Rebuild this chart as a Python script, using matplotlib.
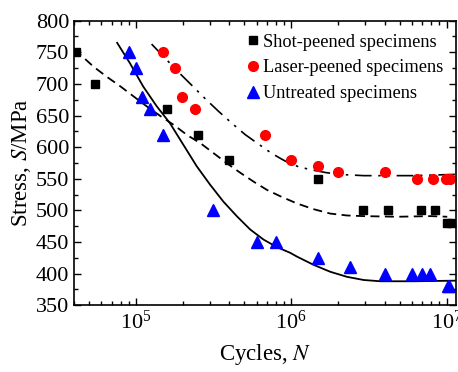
import matplotlib
matplotlib.use('Agg')
import matplotlib.pyplot as plt
from matplotlib.ticker import MultipleLocator, LogLocator, NullFormatter

plt.rcParams['font.family'] = ['Liberation Serif', 'DejaVu Serif']
plt.rcParams['mathtext.fontset'] = 'stix'

# measured points
shot_n = [4.1e4, 5.5e4, 1.58e5, 2.5e5, 3.95e5, 1.49e6, 2.9e6, 4.2e6, 6.8e6, 8.4e6, 1.0e7, 1.07e7]
shot_s = [750, 700, 660, 620, 580, 550, 500, 500, 500, 500, 480, 480]

laser_n = [1.49e5, 1.79e5, 1.99e5, 2.4e5, 6.8e5, 1.0e6, 1.49e6, 2.0e6, 4.0e6, 6.5e6, 8.2e6, 9.95e6, 1.05e7]
laser_s = [750, 725, 680, 660, 620, 580, 570, 560, 560, 550, 550, 550, 550]

untr_n = [9.0e4, 1.0e5, 1.1e5, 1.24e5, 1.49e5, 3.15e5, 6.0e5, 8.0e5, 1.49e6, 2.4e6, 4.0e6, 6.0e6, 7.0e6, 7.8e6, 1.02e7, 1.04e7]
untr_s = [750, 725, 680, 660, 620, 500, 450, 450, 425, 410, 400, 400, 400, 400, 380, 380]

# fitted curves
fit_untr_n = [7.58e4, 9.15e4, 1.115e5, 1.36e5, 1.657e5, 2.02e5, 2.463e5, 3.0e5, 3.658e5,
              4.463e5, 5.438e5, 6.627e5, 8.084e5, 9.85e5, 1.089e6, 1.393e6, 1.785e6,
              2.288e6, 2.928e6, 3.751e6, 6.152e6, 1.172e7]
fit_untr_s = [765, 733, 696, 665, 638, 604, 570, 541, 514, 491, 470, 454, 442, 433,
              427, 414, 403, 395, 390, 388, 388, 389]

fit_shot_n = [3.98e4, 4.4e4, 5.36e4, 6.53e4, 7.97e4, 9.71e4, 1.183e5, 1.443e5, 1.759e5,
              2.143e5, 2.615e5, 3.186e5, 3.882e5, 4.737e5, 5.771e5, 7.033e5, 8.582e5,
              1.089e6, 1.393e6, 1.785e6, 2.288e6, 2.928e6, 4.807e6, 7.885e6, 1.01e7]
fit_shot_s = [753, 746, 727, 711, 696, 680, 664, 649, 635, 619, 606, 590, 574, 559,
              545, 532, 522, 511, 502, 495, 492, 491, 490, 491, 490]

fit_laser_n = [1.263e5, 1.539e5, 1.875e5, 2.288e5, 2.787e5, 3.396e5, 4.144e5, 5.05e5,
               6.152e5, 7.508e5, 9.148e5, 1.115e6, 1.36e6, 1.657e6, 2.02e6, 2.928e6,
               6.152e6, 1.143e7]
fit_laser_s = [763, 741, 719, 698, 677, 657, 638, 620, 605, 590, 578, 569, 564, 560,
               557, 555, 555, 557]

fig, ax = plt.subplots(figsize=(4.58, 3.72), dpi=100)
fig.subplots_adjust(left=0.1616, right=0.9956, top=0.9444, bottom=0.1793)

ax.plot(fit_untr_n, fit_untr_s, color='black', lw=1.3, linestyle='-')
ax.plot(fit_shot_n, fit_shot_s, color='black', lw=1.3, linestyle=(0, (5, 3)))
ax.plot(fit_laser_n, fit_laser_s, color='black', lw=1.2, linestyle=(0, (10, 4, 1.5, 4, 1.5, 4)))

ax.plot(shot_n, shot_s, 's', color='black', ms=6, label='Shot-peened specimens')
ax.plot(laser_n, laser_s, 'o', color='red', ms=7, label='Laser-peened specimens')
ax.plot(untr_n, untr_s, '^', color='blue', ms=8, label='Untreated specimens')

ax.set_xscale('log')
ax.set_xlim(4.0e4, 1.15e7)
ax.set_ylim(350, 800)
ax.yaxis.set_major_locator(MultipleLocator(50))
ax.yaxis.set_minor_locator(MultipleLocator(25))
ax.xaxis.set_minor_locator(LogLocator(base=10, subs=range(2, 10)))
ax.xaxis.set_minor_formatter(NullFormatter())

ax.tick_params(which='both', direction='in', top=True, right=True, labelsize=16, width=1)
ax.tick_params(which='major', length=5)
ax.tick_params(which='minor', length=3)
for s in ax.spines.values():
    s.set_linewidth(1.2)

ax.set_xlabel('Cycles, $N$', fontsize=16.5, labelpad=6)
ax.set_ylabel('Stress, $S$/MPa', fontsize=16.5, labelpad=2)

ax.legend(loc='upper right', frameon=False, fontsize=13.2, handlelength=0.5,
          handletextpad=0.3, labelspacing=0.48, borderaxespad=0.3)

fig.savefig('out.png', dpi=100)
